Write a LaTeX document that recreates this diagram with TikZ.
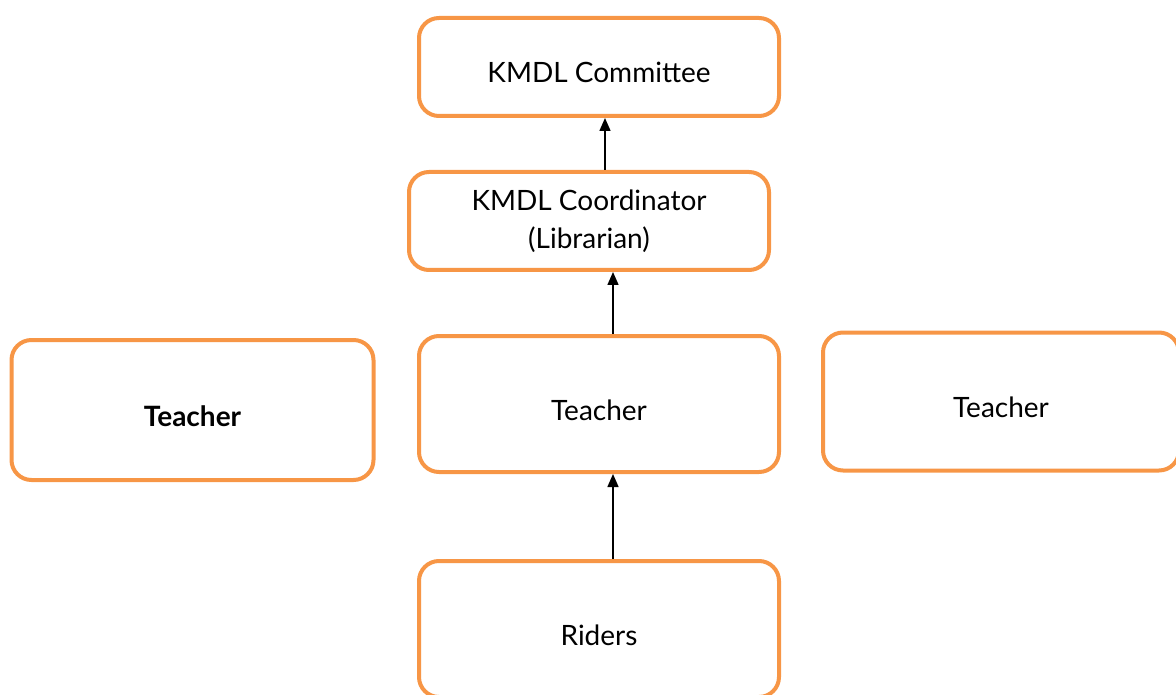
\documentclass[tikz,border=0pt]{standalone}
\usepackage{fontspec}
\setmainfont{Lato}
\usetikzlibrary{arrows.meta}
\definecolor{boxorange}{HTML}{F79646}
\tikzset{
  box/.style={draw=boxorange, line width=4pt, rounded corners=20pt, fill=white,
    align=center, inner sep=0pt, font=\fontsize{28}{38}\selectfont},
  oneline/.style={text height=32pt, text depth=0pt},
  arr/.style={line width=1.5pt, -{Triangle[length=13pt,width=11pt]}}
}
\begin{document}
\begin{tikzpicture}[x=1pt,y=-1pt]
\useasboundingbox (0,0) rectangle (1176,695);
\node[box, oneline, minimum width=360pt, minimum height=98pt] (comm) at (599,67) {KMDL Committee};
\node[box, minimum width=360pt, minimum height=98pt] (coord) at (589,221) {KMDL Coordinator\\(Librarian)};
\node[box, oneline, minimum width=362pt, minimum height=140pt, font=\fontsize{28}{38}\selectfont\bfseries] (tl) at (192.5,410) {Teacher};
\node[box, oneline, minimum width=360pt, minimum height=136pt] (tc) at (599,404) {Teacher};
\node[box, oneline, minimum width=356pt, minimum height=138pt] (tr) at (1001,401.5) {Teacher};
\node[box, oneline, minimum width=360pt, minimum height=136pt] (riders) at (599,629) {Riders};
\coordinate (ax1) at (605,0);
\coordinate (ax2) at (613,0);
\draw[arr] (coord.north -| ax1) -- (comm.south -| ax1);
\draw[arr] (tc.north -| ax2) -- (coord.south -| ax2);
\draw[arr] (riders.north -| ax2) -- (tc.south -| ax2);
\end{tikzpicture}
\end{document}
